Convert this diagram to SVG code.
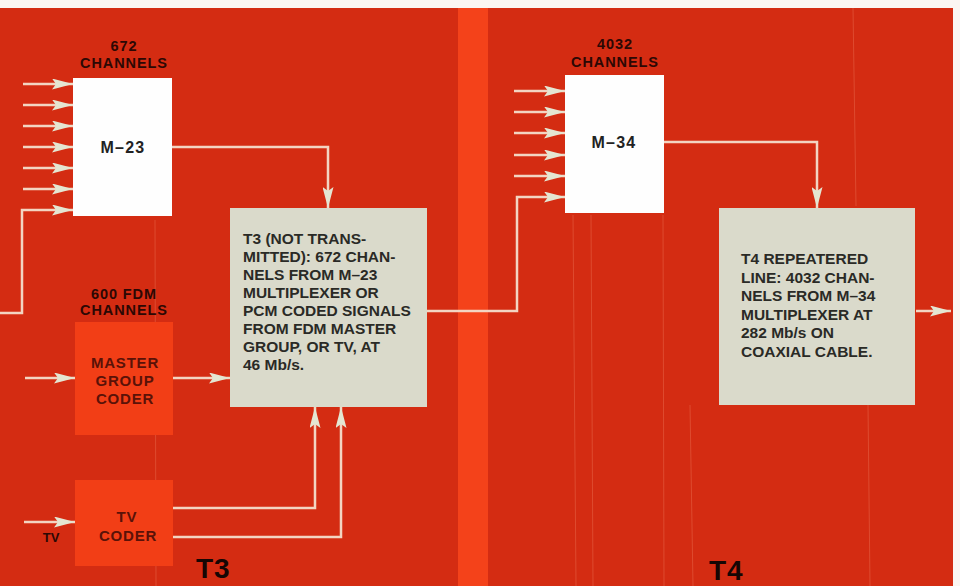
<svg xmlns="http://www.w3.org/2000/svg" width="960" height="586" viewBox="0 0 960 586">
<defs>
<marker id="ah" markerUnits="userSpaceOnUse" markerWidth="21" markerHeight="11" refX="21" refY="5.5" orient="auto">
<path d="M0,0 L21,5.5 L0,11 L4,5.5 z" fill="#e4e6d2"/>
</marker>
<style>
.bg{fill:#d42c12}
.strip{fill:#f4421a}
.mux{fill:#fefefe}
.coder{fill:#f23e16}
.info{fill:#dadacb}
.wire{fill:none;stroke:#f3d5c2;stroke-width:2.5;stroke-linejoin:miter}
.arr{marker-end:url(#ah)}
.tex{stroke:#ee7a5c;stroke-width:1;opacity:0.4}
text{font-family:"Liberation Sans",Arial,Helvetica,sans-serif;font-weight:bold}
.lbl{font-size:14.5px;fill:#2c0804;text-anchor:middle;letter-spacing:0.9px}
.mlbl{font-size:16px;fill:#222;text-anchor:middle;letter-spacing:1.2px}
.clbl{font-size:15px;fill:#5a1208;text-anchor:middle;letter-spacing:0.8px}
.body{font-size:15.5px;fill:#2a2a26}
.big{font-size:28px;fill:#160604;letter-spacing:1px}
</style>
</defs>
<rect x="0" y="0" width="960" height="586" fill="#fbf6f2"/>
<rect class="bg" x="0" y="8" width="953" height="578"/>
<rect class="strip" x="458" y="8" width="30" height="578"/>
<g id="texture">
<line class="tex" x1="155" y1="220" x2="156" y2="586"/>
<line class="tex" x1="573" y1="215" x2="576" y2="586"/>
<line class="tex" x1="591" y1="215" x2="593" y2="586"/>
<line class="tex" x1="663" y1="215" x2="664" y2="586"/>
<line class="tex" x1="690" y1="405" x2="693" y2="586"/>
<line class="tex" x1="853" y1="8" x2="856" y2="206"/>
<line class="tex" x1="868" y1="405" x2="870" y2="586"/>
</g>
<g id="connectors">
<line class="wire arr" x1="23" y1="84" x2="73" y2="84"/>
<line class="wire arr" x1="23" y1="105" x2="73" y2="105"/>
<line class="wire arr" x1="23" y1="126" x2="73" y2="126"/>
<line class="wire arr" x1="23" y1="147" x2="73" y2="147"/>
<line class="wire arr" x1="23" y1="168" x2="73" y2="168"/>
<line class="wire arr" x1="23" y1="189" x2="73" y2="189"/>
<path class="wire arr" d="M0,313 H22 V210 H73"/>
<path class="wire arr" d="M172,147 H328 V208"/>
<line class="wire arr" x1="25" y1="378" x2="75" y2="378"/>
<line class="wire arr" x1="173" y1="378" x2="230" y2="378"/>
<line class="wire arr" x1="24" y1="522" x2="75" y2="522"/>
<path class="wire arr" d="M173,508 H315 V407"/>
<path class="wire arr" d="M173,537 H341 V407"/>
<path class="wire arr" d="M427,311 H517 V197 H565"/>
<line class="wire arr" x1="514" y1="91" x2="565" y2="91"/>
<line class="wire arr" x1="514" y1="112" x2="565" y2="112"/>
<line class="wire arr" x1="514" y1="133" x2="565" y2="133"/>
<line class="wire arr" x1="514" y1="155" x2="565" y2="155"/>
<line class="wire arr" x1="514" y1="176" x2="565" y2="176"/>
<path class="wire arr" d="M664,142 H817 V208"/>
<line class="wire arr" x1="916" y1="311" x2="951" y2="311"/>
</g>
<g id="m23">
<text class="lbl" x="124" y="51">672</text>
<text class="lbl" x="124" y="68">CHANNELS</text>
<rect class="mux" x="73" y="78" width="99" height="138"/>
<text class="mlbl" x="123" y="153">M–23</text>
</g>
<g id="master-group-coder">
<text class="lbl" x="124" y="299">600 FDM</text>
<text class="lbl" x="124" y="315">CHANNELS</text>
<rect class="coder" x="75" y="322" width="98" height="113"/>
<text class="clbl" x="125" y="368">MASTER</text>
<text class="clbl" x="125" y="386">GROUP</text>
<text class="clbl" x="125" y="404">CODER</text>
</g>
<g id="tv-coder">
<rect class="coder" x="75" y="480" width="98" height="86"/>
<text class="clbl" x="127" y="522">TV</text>
<text class="clbl" x="128" y="541">CODER</text>
<text class="lbl" x="51" y="542" style="font-size:13px;letter-spacing:0">TV</text>
</g>
<g id="t3">
<rect class="info" x="230" y="208" width="197" height="199"/>
<text class="body" x="243" y="244">T3 (NOT TRANS-</text>
<text class="body" x="243" y="262">MITTED): 672 CHAN-</text>
<text class="body" x="243" y="280">NELS FROM M–23</text>
<text class="body" x="243" y="298">MULTIPLEXER OR</text>
<text class="body" x="243" y="316">PCM CODED SIGNALS</text>
<text class="body" x="243" y="334">FROM FDM MASTER</text>
<text class="body" x="243" y="352">GROUP, OR TV, AT</text>
<text class="body" x="243" y="370">46 Mb/s.</text>
<text class="big" x="196" y="578">T3</text>
</g>
<g id="m34">
<text class="lbl" x="615" y="49">4032</text>
<text class="lbl" x="615" y="67">CHANNELS</text>
<rect class="mux" x="565" y="75" width="99" height="138"/>
<text class="mlbl" x="614" y="148">M–34</text>
</g>
<g id="t4">
<rect class="info" x="719" y="208" width="196" height="197"/>
<text class="body" x="741" y="264">T4 REPEATERED</text>
<text class="body" x="741" y="282.5">LINE: 4032 CHAN-</text>
<text class="body" x="741" y="301">NELS FROM M–34</text>
<text class="body" x="741" y="319.5">MULTIPLEXER AT</text>
<text class="body" x="741" y="338">282 Mb/s ON</text>
<text class="body" x="741" y="356.5">COAXIAL CABLE.</text>
<text class="big" x="709" y="580">T4</text>
</g>
</svg>
